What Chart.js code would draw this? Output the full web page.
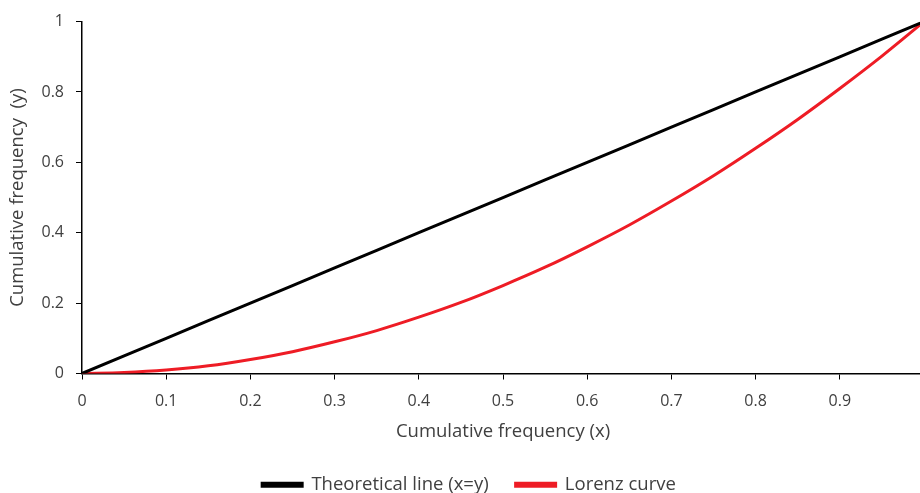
<!DOCTYPE html>
<html>
<head>
<meta charset="utf-8">
<script src="https://cdn.jsdelivr.net/npm/chart.js@4"></script>
<style>
  html, body { margin: 0; padding: 0; background: #fff; overflow: hidden; }
  #wrap { width: 926px; height: 493px; }
</style>
</head>
<body>
<div id="wrap"><canvas id="chart" width="926" height="493"></canvas></div>
<script>
// cumulative frequency x and the two series
var xValues = [0, 0.05, 0.1, 0.15, 0.2, 0.25, 0.3, 0.35, 0.4, 0.45, 0.5, 0.55, 0.6, 0.65, 0.7, 0.75, 0.8, 0.85, 0.9, 0.95, 1];
var theoretical = [0, 0.05, 0.1, 0.15, 0.2, 0.25, 0.3, 0.35, 0.4, 0.45, 0.5, 0.55, 0.6, 0.65, 0.7, 0.75, 0.8, 0.85, 0.9, 0.95, 1];
var lorenz = [0, 0.003, 0.01, 0.022, 0.04, 0.062, 0.09, 0.122, 0.16, 0.202, 0.25, 0.302, 0.36, 0.422, 0.49, 0.562, 0.64, 0.722, 0.81, 0.902, 1];

var seriesNames = ["Theoretical line (x=y)", "Lorenz curve"];
var xTitle = "Cumulative frequency (x)";
var yTitle = "Cumulative frequency  (y)";

function toPoints(ys) {
  var pts = [];
  for (var i = 0; i < xValues.length; ++i) {
    pts.push({ x: xValues[i], y: ys[i] });
  }
  return pts;
}

// 0.2 -> "0.2", 1 -> "1"
function fmt(v) {
  return String(Number(v.toFixed(1)));
}

var font = "'Open Sans', 'Noto Sans', sans-serif";
var textColor = "#404040";

// nudge the legend a few px right, it is not quite centred in the original
var legendShift = {
  id: "legendShift",
  afterLayout: function (chart) {
    chart.legend.left += 7;
    chart.legend.right += 7;
  },
};

var ctx = document.getElementById("chart").getContext("2d");
var chart = new Chart(ctx, {
  type: "line",
  data: {
    datasets: [
      {
        label: seriesNames[0],
        data: toPoints(theoretical),
        borderColor: "#000000",
        backgroundColor: "#000000",
        borderWidth: 3,
        pointRadius: 0,
        tension: 0,
      },
      {
        label: seriesNames[1],
        data: toPoints(lorenz),
        borderColor: "#ee1c25",
        backgroundColor: "#ee1c25",
        borderWidth: 3,
        pointRadius: 0,
        cubicInterpolationMode: "monotone",
      },
    ],
  },
  options: {
    responsive: false,
    animation: false,
    layout: { padding: { top: 13, left: 0, right: 2, bottom: -11 } },
    plugins: {
      tooltip: { enabled: false },
      legend: {
        position: "bottom",
        labels: {
          boxWidth: 40,
          boxHeight: 3,
          padding: 27,
          color: textColor,
          font: { family: font, size: 18.5 },
        },
      },
    },
    scales: {
      x: {
        type: "linear",
        min: 0,
        max: 1,
        ticks: {
          stepSize: 0.1,
          color: textColor,
          font: { family: font, size: 16 },
          padding: 12,
          maxRotation: 0,
          callback: fmt,
        },
        grid: {
          drawOnChartArea: false,
          drawTicks: true,
          tickLength: 6,
          color: "#000000",
        },
        border: { display: true, color: "#000000", width: 1.5 },
        title: {
          display: true,
          text: xTitle,
          color: textColor,
          font: { family: font, size: 18.5 },
          padding: { top: 0, bottom: 6 },
        },
        afterFit: function (scale) {
          scale.height = 75;
          // let the last label run off the edge like the original
          scale.paddingRight = 0;
        },
      },
      y: {
        type: "linear",
        min: 0,
        max: 1,
        ticks: {
          stepSize: 0.2,
          color: textColor,
          font: { family: font, size: 16 },
          padding: 12,
          callback: fmt,
        },
        grid: {
          drawOnChartArea: false,
          drawTicks: true,
          tickLength: 6,
          color: "#000000",
        },
        border: { display: true, color: "#000000", width: 1.5 },
        title: {
          display: true,
          text: yTitle,
          color: textColor,
          font: { family: font, size: 18.5 },
          padding: { top: 7, bottom: 0 },
        },
        afterFit: function (scale) {
          scale.width = 82;
        },
      },
    },
  },
  plugins: [legendShift],
});
</script>
</body>
</html>
